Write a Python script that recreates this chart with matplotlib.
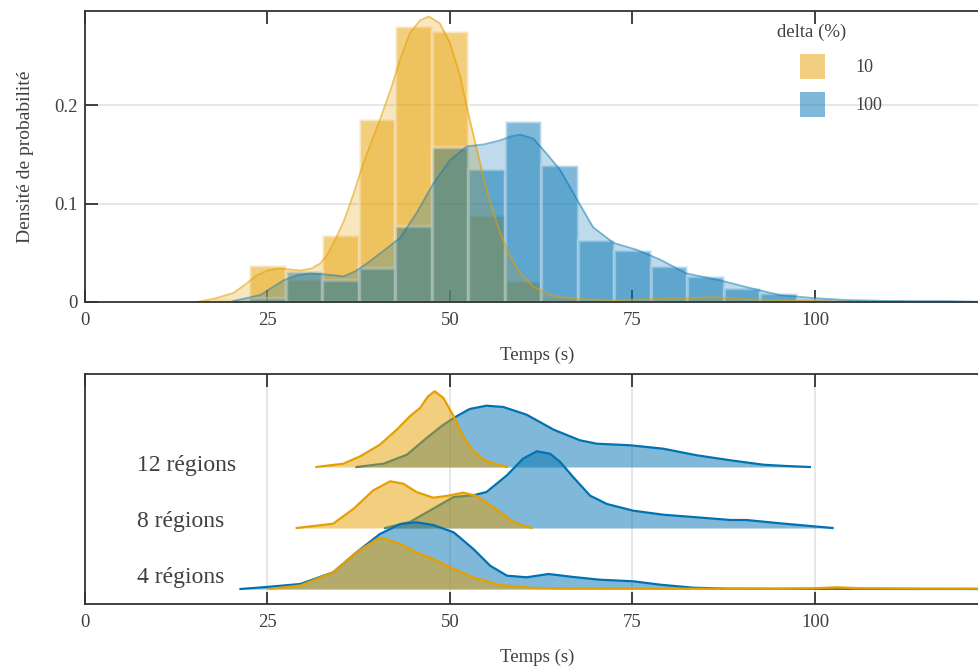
import numpy as np
import matplotlib
matplotlib.use("Agg")
import matplotlib.pyplot as plt
from matplotlib.patches import Rectangle

plt.rcParams['font.family'] = ['Liberation Serif', 'DejaVu Serif']
plt.rcParams['text.color'] = '#404040'
plt.rcParams['axes.labelcolor'] = '#404040'
plt.rcParams['xtick.color'] = '#333333'
plt.rcParams['ytick.color'] = '#333333'
plt.rcParams['xtick.labelcolor'] = '#404040'
plt.rcParams['ytick.labelcolor'] = '#404040'

ORANGE = '#E69F00'
BLUE = '#0072B2'

# ---- top panel : histograms (density) + kde, delta = 10 % / 100 %
bin_centers = [20, 25, 30, 35, 40, 45, 50, 55, 60, 65, 70, 75, 80, 85, 90, 95, 100, 105, 110, 115]
hist_10 = [0.003, 0.038, 0.023, 0.068, 0.186, 0.280, 0.275, 0.088, 0.021, 0.003,
           0.001, 0.001, 0.001, 0.002, 0.001, 0.001, 0.001, 0.002, 0.0, 0.0]
hist_100 = [0.001, 0.004, 0.031, 0.022, 0.035, 0.077, 0.157, 0.135, 0.184, 0.139,
            0.063, 0.053, 0.037, 0.026, 0.014, 0.009, 0.003, 0.002, 0.002, 0.001]

kde10_x = [15.3, 17.5, 20.3, 22.0, 23.5, 25.0, 26.5, 28.0, 29.5, 31.0, 32.2, 33.2, 34.2,
           35.5, 36.8, 38.0, 39.2, 40.4, 41.8, 43.15, 44.5, 45.9, 47.1, 48.6, 50.0, 51.4,
           52.3, 53.7, 55.0, 56.4, 57.8, 59.6, 61.4, 63.7, 65.1, 68.0, 72.0, 78.0, 83.0,
           86.0, 90.0, 95.0, 100.0, 105.0]
kde10_y = [0.0, 0.003, 0.009, 0.018, 0.027, 0.032, 0.034, 0.033, 0.032, 0.034, 0.039,
           0.048, 0.062, 0.083, 0.110, 0.138, 0.162, 0.185, 0.214, 0.246, 0.273, 0.286,
           0.290, 0.283, 0.263, 0.229, 0.198, 0.154, 0.114, 0.080, 0.053, 0.029, 0.016,
           0.007, 0.005, 0.003, 0.002, 0.003, 0.004, 0.005, 0.003, 0.002, 0.001, 0.0]

kde100_x = [20.3, 24.0, 27.2, 29.0, 30.8, 33.0, 35.4, 37.0, 38.6, 40.9, 43.15, 45.4,
            47.7, 50.0, 52.3, 54.6, 56.8, 58.3, 59.6, 61.4, 63.2, 65.1, 67.4, 69.6,
            72.4, 75.6, 78.8, 82.4, 87.0, 90.7, 95.2, 99.8, 104.4, 110.0, 118.0, 124.0]
kde100_y = [0.001, 0.007, 0.022, 0.027, 0.029, 0.028, 0.026, 0.031, 0.039, 0.052,
            0.065, 0.090, 0.120, 0.144, 0.158, 0.160, 0.164, 0.168, 0.170, 0.166,
            0.151, 0.134, 0.104, 0.076, 0.060, 0.053, 0.043, 0.029, 0.022, 0.015,
            0.007, 0.004, 0.002, 0.001, 0.001, 0.0]

legend_labels = ['10', '100']

# ---- bottom panel : ridgelines per number of regions (heights read in pixels)
ridge_names = ['12 régions', '8 régions', '4 régions']
ridge_base = [2, 1, 0]
label_pos = [1.934, 1.016, 0.098]

r12_10_x = [31.7, 35.4, 37.7, 40.4, 42.7, 44.5, 45.9, 47.0, 47.9, 49.1, 50.5, 51.8,
            53.2, 55.0, 57.8]
r12_10_h = [0, 3.3, 10.7, 22.3, 37.3, 50.7, 59, 70.7, 75.7, 69, 50.7, 30.7, 15.7, 5.7, 0]
r12_100_x = [37.2, 40.9, 44.1, 46.8, 49.1, 50.9, 52.7, 55.0, 57.3, 60.5, 64.2, 67.8,
             70.1, 74.7, 79.2, 83.8, 88.4, 92.9, 96.0, 99.3]
r12_100_h = [0, 3.3, 12.3, 29, 42.3, 50.7, 58, 61.3, 60, 52.3, 37.3, 26.7, 23.3, 21.7,
             18.3, 11.7, 6.7, 2.3, 1, 0]

r8_10_x = [29.0, 34.0, 36.8, 39.5, 41.8, 43.6, 45.4, 47.7, 49.5, 51.8, 53.7, 55.9, 58.7, 61.2]
r8_10_h = [0, 4.3, 19.3, 37.7, 46.7, 44.3, 36, 30.3, 32, 35.3, 32, 21, 6, 0]
r8_100_x = [41.1, 44.5, 47.7, 50.5, 53.2, 55.0, 57.8, 60.0, 61.9, 63.7, 65.1, 66.9, 69.2,
            71.5, 75.1, 79.2, 83.8, 88.4, 90.6, 95.2, 99.8, 102.4]
r8_100_h = [0, 6, 19.3, 31, 32.7, 36, 52.7, 69.3, 76.7, 74.3, 66, 50.7, 32.3, 24, 17.3,
            13.3, 10.7, 8, 8, 4.7, 1.7, 0]

r4_10_x = [25.3, 29.5, 34.0, 37.2, 40.0, 40.9, 43.2, 45.4, 47.7, 50.5, 53.2, 56.8, 61.4,
           65.1, 80.0, 95.0, 100.0, 103.0, 106.0, 115.0, 124.0]
r4_10_h = [0, 3.5, 16.7, 36.7, 50, 50.7, 45, 36.7, 30, 20, 11.7, 4, 1, 0.5, 0.3, 0.3,
           0.8, 1.7, 0.8, 0.4, 0.3]
r4_100_x = [21.3, 24.0, 27.2, 29.5, 34.0, 37.2, 40.4, 43.2, 45.4, 47.7, 50.5, 53.2, 55.5,
            57.8, 60.5, 63.5, 66.9, 70.5, 75.1, 78.8, 83.3, 88.0, 100.0, 124.0]
r4_100_h = [0, 1.5, 3.5, 5, 16.7, 36.7, 55, 65, 66.7, 64, 56.7, 40, 23.3, 13.3, 11.7, 15,
            12, 9.3, 7.7, 4.3, 1.3, 0.3, 0.1, 0.0]

ridge_10 = [(r12_10_x, r12_10_h), (r8_10_x, r8_10_h), (r4_10_x, r4_10_h)]
ridge_100 = [(r12_100_x, r12_100_h), (r8_100_x, r8_100_h), (r4_100_x, r4_100_h)]
px_per_unit = 61.0

xticks = [0, 25, 50, 75, 100]

W, H = 979, 666
fig = plt.figure(figsize=(W / 100, H / 100), dpi=100)

def fig_rect(left, top, right, bottom):
    return [left / W, 1 - bottom / H, (right - left) / W, (bottom - top) / H]

XMAX = (989 - 85) / 7.3

def style_axes(ax):
    for s in ax.spines.values():
        s.set_color('#333333')
        s.set_linewidth(1.3)
    ax.tick_params(axis='x', which='both', direction='in', length=9, width=1.3,
                   top=True, bottom=True, labelsize=13.5, pad=7)
    ax.set_xticks(xticks)
    ax.set_xlim(0, XMAX)

# ---------------- top
ax1 = fig.add_axes(fig_rect(85, 11, 989, 302))
style_axes(ax1)
ax1.bar(bin_centers, hist_10, width=5, color=ORANGE, alpha=0.5,
        edgecolor='white', linewidth=2.4, zorder=2)
ax1.bar(bin_centers, hist_100, width=5, color=BLUE, alpha=0.5,
        edgecolor='white', linewidth=2.4, zorder=3)
ax1.fill_between(kde10_x, kde10_y, color=ORANGE, alpha=0.25, linewidth=0, zorder=4)
ax1.plot(kde10_x, kde10_y, color=ORANGE, alpha=0.6, lw=1.3, zorder=5)
ax1.fill_between(kde100_x, kde100_y, color=BLUE, alpha=0.25, linewidth=0, zorder=4)
ax1.plot(kde100_x, kde100_y, color=BLUE, alpha=0.5, lw=1.3, zorder=5)
ax1.set_ylim(0, 0.2955)
ax1.set_yticks([0, 0.1, 0.2])
ax1.set_yticklabels(['0', '0.1', '0.2'])
ax1.tick_params(axis='y', direction='in', length=9, width=1.3, labelsize=13.5, pad=5)
ax1.grid(axis='y', color='#e3e3e3', lw=1.2, zorder=0)
ax1.set_axisbelow(True)
ax1.spines['bottom'].set_zorder(6)
ax1.set_xlabel('Temps (s)', fontsize=13.5, labelpad=13)
ax1.set_ylabel('Densité de probabilité', fontsize=14, labelpad=15)

# legend drawn by hand (title left, keys indented)
fig.text(777 / W, 1 - 32 / H, 'delta (%)', fontsize=13.5, color='#404040',
         ha='left', va='center')
for k, (col, lab) in enumerate(zip([ORANGE, BLUE], legend_labels)):
    top = 54 + 38 * k
    fig.add_artist(Rectangle((800 / W, 1 - (top + 25) / H), 25 / W, 25 / H,
                             transform=fig.transFigure, facecolor=col, alpha=0.5,
                             edgecolor='none'))
    fig.text(855 / W, 1 - (top + 13.5) / H, lab, fontsize=13, color='#404040',
             ha='left', va='center')

# ---------------- bottom
ax2 = fig.add_axes(fig_rect(85, 374, 989, 604))
style_axes(ax2)
ax2.set_ylim((589 - 604) / px_per_unit, (589 - 374) / px_per_unit)
ax2.set_yticks([])
ax2.grid(axis='x', color='#e3e3e3', lw=1.2, zorder=0)
ax2.set_axisbelow(True)
for i, name in enumerate(ridge_names):
    base = ridge_base[i]
    z = 2 + 3 * i
    bx, bh = ridge_100[i]
    by = base + np.array(bh) / px_per_unit
    ax2.fill_between(bx, base, by, color=BLUE, alpha=0.5, linewidth=0, zorder=z)
    ax2.plot(bx, by, color=BLUE, lw=1.6, zorder=z)
    ox, oh = ridge_10[i]
    oy = base + np.array(oh) / px_per_unit
    ax2.fill_between(ox, base, oy, color=ORANGE, alpha=0.5, linewidth=0, zorder=z + 1)
    ax2.plot(ox, oy, color=ORANGE, lw=1.6, zorder=z + 1)
    ax2.text(7.1, label_pos[i], name, fontsize=17, color='#404040',
             ha='left', va='baseline', zorder=20)
ax2.set_xlabel('Temps (s)', fontsize=13.5, labelpad=13)

fig.savefig('out.png', dpi=100)
